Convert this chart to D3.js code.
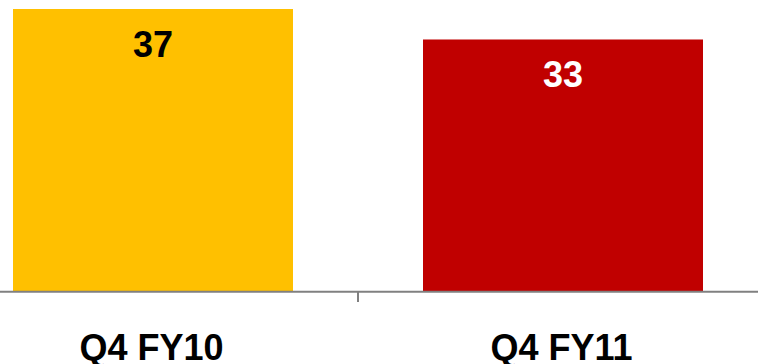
<!DOCTYPE html>
<html>
<head>
<meta charset="utf-8">
<script src="https://cdn.jsdelivr.net/npm/d3@7"></script>
<style>
  html, body { margin: 0; padding: 0; background: #fff; }
  svg { display: block; }
</style>
</head>
<body>
<svg id="chart" width="758" height="364"></svg>
<script>
const categories = ["Q4 FY10", "Q4 FY11"];
const values = [37, 33];
const barColors = ["#FFC000", "#C00000"];
const labelColors = ["#000000", "#FFFFFF"];

const svg = d3.select("#chart");
const W = 758, H = 364;
const baseY = 291;

const x = d3.scaleBand()
  .domain(categories)
  .range([-52, 768])
  .paddingInner(130 / 410)
  .paddingOuter(65 / 410);

const y = d3.scaleLinear()
  .domain([0, 37])
  .range([baseY, 9]);

const font = "'Liberation Sans', Arial, Helvetica, sans-serif";

// bars
svg.selectAll("rect.bar")
  .data(values)
  .enter().append("rect")
  .attr("class", "bar")
  .attr("x", (d, i) => x(categories[i]))
  .attr("width", x.bandwidth())
  .attr("y", d => y(d))
  .attr("height", d => baseY - y(d))
  .attr("fill", (d, i) => barColors[i]);

// value labels
svg.selectAll("text.val")
  .data(values)
  .enter().append("text")
  .attr("class", "val")
  .attr("x", (d, i) => x(categories[i]) + x.bandwidth() / 2)
  .attr("y", d => y(d) + 47.5)
  .attr("text-anchor", "middle")
  .attr("font-family", font)
  .attr("font-weight", "bold")
  .attr("font-size", 36)
  .attr("fill", (d, i) => labelColors[i])
  .text(d => d);

// axis line
svg.append("line")
  .attr("x1", 0).attr("x2", W)
  .attr("y1", baseY + 0.7).attr("y2", baseY + 0.7)
  .attr("stroke", "#808080")
  .attr("stroke-width", 2);

// tick marks between categories
const step = x.step();
const tickXs = categories.slice(1).map(c => x(c) - (step - x.bandwidth()) / 2);
svg.selectAll("line.tick")
  .data(tickXs)
  .enter().append("line")
  .attr("class", "tick")
  .attr("x1", d => d).attr("x2", d => d)
  .attr("y1", baseY).attr("y2", baseY + 11)
  .attr("stroke", "#808080")
  .attr("stroke-width", 2);

// category labels
svg.selectAll("text.cat")
  .data(categories)
  .enter().append("text")
  .attr("class", "cat")
  .attr("x", d => x(d) + x.bandwidth() / 2 - 1.5)
  .attr("y", 360)
  .attr("text-anchor", "middle")
  .attr("font-family", font)
  .attr("font-weight", "bold")
  .attr("font-size", 36)
  .attr("fill", "#000")
  .text(d => d);
</script>
</body>
</html>
